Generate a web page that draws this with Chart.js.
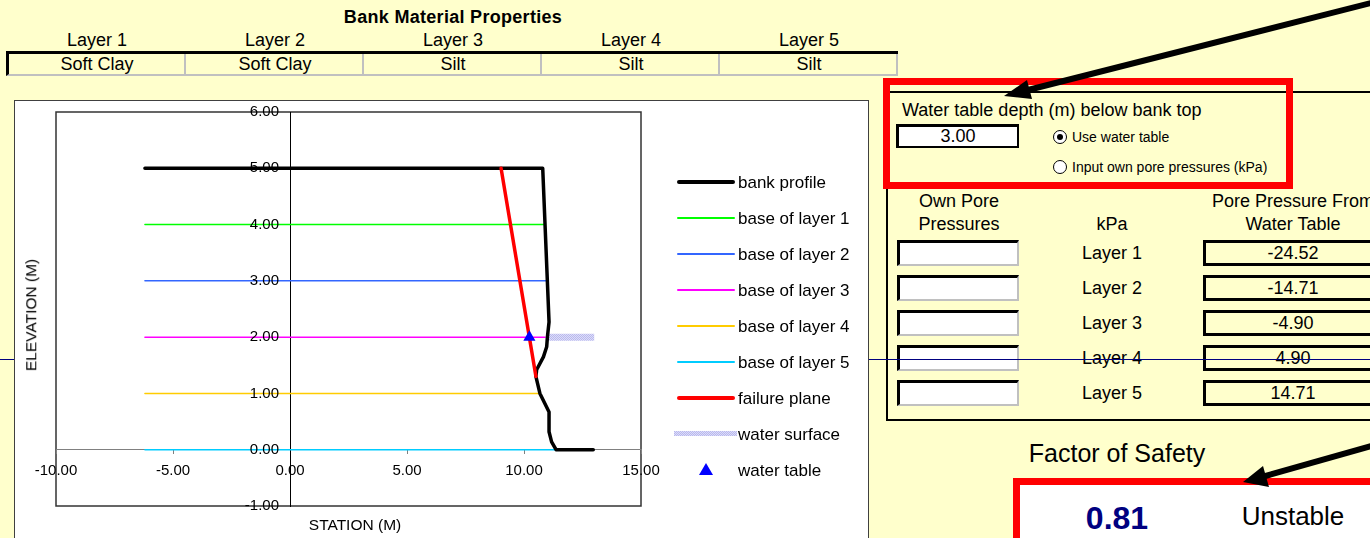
<!DOCTYPE html>
<html>
<head>
<meta charset="utf-8">
<title>Bank stability</title>
<script src="https://cdn.jsdelivr.net/npm/chart.js@4.4.0/dist/chart.umd.min.js"></script>
<style>
  body { margin: 0; background: #FFFFCC; font-family: "Liberation Sans", Arial, sans-serif; color: #000; }
  #page { position: relative; width: 1370px; height: 538px; overflow: hidden; }
  .t { position: absolute; white-space: nowrap; transform: translate(-50%, -50%); line-height: 1; }
  .tl { position: absolute; white-space: nowrap; transform: translateY(-50%); line-height: 1; }
  .abs { position: absolute; box-sizing: border-box; }
  .own { border-top: 3px solid #000; border-left: 3px solid #000; border-right: 2px solid #c0c0c0; border-bottom: 2px solid #c0c0c0; background: #fff; }
  .wt { border: 3px solid #000; background: #FFFFCC; }
  .radio { position: absolute; width: 14px; height: 14px; border-radius: 50%; border: 1px solid #000; background: #fff; box-sizing: border-box; }
</style>
</head>
<body>
<div id="page">
  <!-- top table -->
  <div class="t" style="left:453px;top:17px;font-size:18px;font-weight:bold;letter-spacing:0.3px">Bank Material Properties</div>
  <div id="topTable"></div>

  <!-- right panel -->
  <div class="abs" style="left:886px;top:91px;width:600px;height:330px;border-left:2px solid #000;border-top:2px solid #000;border-bottom:2px solid #000"></div>
  <div class="abs" style="left:883px;top:78px;width:410px;height:111px;border:7px solid #FF0000"></div>
  <div class="tl" style="left:902px;top:110px;font-size:18px">Water table depth (m) below bank top</div>
  <div class="abs" style="left:896px;top:124px;width:123px;height:24px;border:3px solid #000;border-right-width:2px;border-bottom-width:2px;background:#fff"></div>
  <div class="t" id="wtDepth" style="left:958px;top:136px;font-size:18px"></div>
  <div class="radio" style="left:1053px;top:130px"><div style="position:absolute;left:3px;top:3px;width:6px;height:6px;border-radius:50%;background:#000"></div></div>
  <div class="radio" style="left:1053px;top:160px"></div>
  <div class="tl" style="left:1072px;top:137px;font-size:14px">Use water table</div>
  <div class="tl" style="left:1072px;top:167px;font-size:14px">Input own pore pressures (kPa)</div>

  <div class="t" style="left:959px;top:201px;font-size:18px">Own Pore</div>
  <div class="t" style="left:959px;top:224px;font-size:18px">Pressures</div>
  <div class="t" style="left:1112px;top:224px;font-size:18px">kPa</div>
  <div class="t" style="left:1293px;top:201px;font-size:18px">Pore Pressure From</div>
  <div class="t" style="left:1293px;top:224px;font-size:18px">Water Table</div>
  <div id="poreRows"></div>

  <div class="t" style="left:1117px;top:453px;font-size:25px">Factor of Safety</div>
  <div class="abs" style="left:1013px;top:478px;width:420px;height:100px;border:7px solid #FF0000;background:#fff"></div>
  <div class="t" id="fos" style="left:1117px;top:518px;font-size:32px;font-weight:bold;color:#000080"></div>
  <div class="t" id="stab" style="left:1293px;top:516px;font-size:26px"></div>

  <!-- thin navy drawing line -->
  <div class="abs" style="left:0;top:359px;width:1370px;height:1px;background:#000080"></div>

  <!-- chart -->
  <div class="abs" style="left:14px;top:100px;width:855px;height:450px;border:1px solid #404040;background:#fff"></div>
  <div class="abs" style="left:15px;top:101px;width:852px;height:437px"><canvas id="c"></canvas></div>
  <div id="legend"></div>
  <div class="t" style="left:31px;top:315px;font-size:15.5px;transform:translate(-50%,-50%) rotate(-90deg)">ELEVATION (M)</div>
  <div class="t" style="left:355px;top:525px;font-size:15.5px">STATION (M)</div>

  <svg class="abs" style="left:0;top:0" width="1370" height="538">
    <line x1="1375" y1="2" x2="1024" y2="91" stroke="#000" stroke-width="6"/>
    <polygon points="1004,96 1032,99 1027,80" fill="#000"/>
    <line x1="1375" y1="445" x2="1262" y2="477" stroke="#000" stroke-width="6"/>
    <polygon points="1243,482 1269,487 1263,466" fill="#000"/>
  </svg>
</div>

<script>
// ---- data ----
const layerNames = ['Layer 1', 'Layer 2', 'Layer 3', 'Layer 4', 'Layer 5'];
const layerMaterials = ['Soft Clay', 'Soft Clay', 'Silt', 'Silt', 'Silt'];
const porePressureWT = ['-24.52', '-14.71', '-4.90', '4.90', '14.71'];
const waterTableDepth = '3.00';
const factorOfSafety = '0.81';
const stabilityText = 'Unstable';

const seriesLabels = ['bank profile', 'base of layer 1', 'base of layer 2', 'base of layer 3',
  'base of layer 4', 'base of layer 5', 'failure plane', 'water surface', 'water table'];

const bankX = [-6.2, 10.8, 11.07, 11.0, 10.97, 10.83, 10.54, 10.51, 10.68, 11.07, 11.07, 11.18, 11.37, 12.96];
const bankY = [5.0, 5.0, 2.27, 2.0, 1.83, 1.65, 1.42, 1.30, 1.0, 0.67, 0.32, 0.14, 0.0, 0.0];

const layerBaseY = [4, 3, 2, 1, 0];
const layerStartX = [-6.2, -6.2, -6.2, -6.2, -6.2];
const layerEndX = [10.9, 11.0, 10.9, 10.7, 11.4];
const layerColors = ['#00FF00', '#3366FF', '#FF00FF', '#FFCC00', '#00CCFF'];

const failureX = [9.02, 10.51];
const failureY = [5.0, 1.30];
const waterSurfaceX = [10.95, 13.0];
const waterSurfaceY = [2.0, 2.0];
const waterTableX = [10.23];
const waterTableY = [2.0];

const xTicks = [-10, -5, 0, 5, 10, 15];
const yTicks = [-1, 0, 1, 2, 3, 4, 5, 6];

// ---- page text ----
var topTable = document.getElementById('topTable');
var html = '<div class="abs" style="left:6px;top:51px;width:892px;height:25px;border-top:3px solid #000;border-left:3px solid #000;border-bottom:2px solid #c0c0c0"></div>';
for (let i = 0; i < layerNames.length; i++) {
  let cx = 97 + 178 * i;
  html += '<div class="t" style="left:' + cx + 'px;top:40px;font-size:18px">' + layerNames[i] + '</div>';
  html += '<div class="abs" style="left:' + (184 + 178 * i) + 'px;top:54px;width:2px;height:22px;background:#c0c0c0"></div>';
  html += '<div class="t" style="left:' + cx + 'px;top:64px;font-size:18px">' + layerMaterials[i] + '</div>';
}
topTable.innerHTML = html;

html = '';
for (let i = 0; i < layerNames.length; i++) {
  let y = 240 + 35 * i;
  html += '<div class="abs own" style="left:897px;top:' + y + 'px;width:122px;height:26px"></div>';
  html += '<div class="abs wt" style="left:1203px;top:' + y + 'px;width:300px;height:26px"></div>';
  html += '<div class="t" style="left:1112px;top:' + (y + 13) + 'px;font-size:18px">' + layerNames[i] + '</div>';
  html += '<div class="t" style="left:1293px;top:' + (y + 13) + 'px;font-size:18px">' + porePressureWT[i] + '</div>';
}
document.getElementById('poreRows').innerHTML = html;
document.getElementById('wtDepth').textContent = waterTableDepth;
document.getElementById('fos').textContent = factorOfSafety;
document.getElementById('stab').textContent = stabilityText;

// ---- chart ----
const pts = (xs, ys) => xs.map((x, i) => ({x: x, y: ys[i]}));

var pat = document.createElement('canvas');
pat.width = 2; pat.height = 2;
var pc = pat.getContext('2d');
pc.fillStyle = '#DDDDF8'; pc.fillRect(0, 0, 2, 2);
pc.fillStyle = '#B8B8EE'; pc.fillRect(0, 0, 1, 1); pc.fillRect(1, 1, 1, 1);
var ctx = document.getElementById('c');
const waterPattern = ctx.getContext('2d').createPattern(pat, 'repeat');

const datasets = [];
datasets.push({label: seriesLabels[0], data: pts(bankX, bankY), borderColor: '#000', borderWidth: 3.5, order: 2});
layerBaseY.forEach((y, i) => {
  datasets.push({label: seriesLabels[i + 1], data: pts([layerStartX[i], layerEndX[i]], [y, y]),
    borderColor: layerColors[i], borderWidth: 1.5, order: 4});
});
datasets.push({label: seriesLabels[6], data: pts(failureX, failureY), borderColor: '#FF0000', borderWidth: 3.5, order: 1});
datasets.push({label: seriesLabels[7], data: pts(waterSurfaceX, waterSurfaceY), borderColor: waterPattern,
  borderWidth: 7, borderCapStyle: 'butt', order: 3});
datasets.push({label: seriesLabels[8], data: pts(waterTableX, waterTableY), showLine: false,
  pointStyle: 'triangle', pointRadius: 7, backgroundColor: '#0000FF', borderColor: '#0000FF', borderWidth: 0, order: 0});

const tickFont = {family: '"Liberation Sans", Arial, sans-serif', size: 15};

// plot frame behind everything
const framePlugin = {
  id: 'frame',
  beforeDraw(chart) {
    const c = chart.ctx, a = chart.chartArea;
    c.save();
    c.strokeStyle = '#333';
    c.lineWidth = 1.5;
    c.strokeRect(a.left, a.top, a.right - a.left, a.bottom - a.top);
    c.restore();
  }
};

// y labels sit left of the x=0 axis with a gap, like the excel chart
const yLabelPlugin = {
  id: 'yLabels',
  afterDatasetsDraw(chart) {
    const c = chart.ctx, ys = chart.scales.y, xs = chart.scales.x;
    const x0 = xs.getPixelForValue(0) - 11;
    c.save();
    c.font = tickFont.size + 'px ' + tickFont.family;
    c.fillStyle = '#000';
    c.textAlign = 'right';
    c.textBaseline = 'middle';
    ys.ticks.forEach(t => c.fillText(t.value.toFixed(2), x0, ys.getPixelForValue(t.value)));
    c.restore();
  }
};

var myChart = new Chart(ctx, {
  type: 'scatter',
  data: {datasets: datasets},
  options: {
    responsive: true,
    maintainAspectRatio: false,
    animation: false,
    layout: {autoPadding: false, padding: {left: 41, top: 11, right: 226, bottom: 32}},
    elements: {
      point: {radius: 0},
      line: {tension: 0, borderJoinStyle: 'round', borderCapStyle: 'round'}
    },
    datasets: {scatter: {showLine: true}},
    plugins: {legend: {display: false}, tooltip: {enabled: false}},
    scales: {
      x: {
        type: 'linear', min: -10, max: 15, position: {y: 0},
        afterBuildTicks: s => { s.ticks = xTicks.map(v => ({value: v})); },
        ticks: {callback: v => v.toFixed(2), font: tickFont, color: '#000', padding: 8, autoSkip: false, maxRotation: 0},
        grid: {drawOnChartArea: false, drawTicks: true, tickLength: 4, color: '#808080'},
        border: {color: '#808080', width: 1}
      },
      y: {
        type: 'linear', min: -1, max: 6, position: {x: 0},
        afterBuildTicks: s => { s.ticks = yTicks.map(v => ({value: v})); },
        ticks: {display: false},
        grid: {drawOnChartArea: false, drawTicks: false},
        border: {color: '#000', width: 1}
      }
    }
  },
  plugins: [framePlugin, yLabelPlugin]
});

// ---- legend (html, built from the datasets) ----
var legend = document.getElementById('legend');
html = '';
datasets.forEach((ds, i) => {
  let cy = 182 + 36 * i;
  let sw;
  if (ds.pointStyle === 'triangle') {
    sw = '<svg class="abs" style="left:699px;top:' + (cy - 7) + 'px" width="14" height="12"><polygon points="7,0 14,12 0,12" fill="' + ds.backgroundColor + '"/></svg>';
  } else if (ds.borderColor === waterPattern) {
    sw = '<div class="abs" style="left:674px;top:' + (cy - 3) + 'px;width:63px;height:5px;background-image:url(' + pat.toDataURL() + ')"></div>';
  } else {
    let h = ds.borderWidth;
    sw = '<div class="abs" style="left:677px;top:' + (cy - h / 2) + 'px;width:58px;height:' + h + 'px;background:' + ds.borderColor + ';border-radius:2px"></div>';
  }
  html += sw + '<div class="tl" style="left:738px;top:' + cy + 'px;font-size:17px">' + ds.label + '</div>';
});
legend.innerHTML = html;
</script>
</body>
</html>
